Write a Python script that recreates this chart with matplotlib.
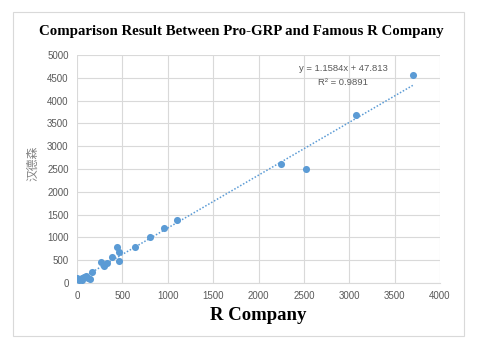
import matplotlib
matplotlib.use("Agg")
import matplotlib.pyplot as plt
from matplotlib.patches import Rectangle
import numpy as np

r_company = [5, 20, 35, 50, 60, 80, 100, 120, 140, 160, 265, 300, 330, 385, 440, 460, 465, 640, 800, 960, 1100, 2250, 2520, 3070, 3700]
handesen = [100, 70, 90, 110, 60, 130, 150, 120, 90, 240, 460, 380, 430, 570, 780, 690, 490, 800, 1000, 1200, 1380, 2600, 2490, 3690, 4560]
slope = 1.1584
intercept = 47.813
r2 = 0.9891
xticks = [0, 500, 1000, 1500, 2000, 2500, 3000, 3500, 4000]
yticks = [0, 500, 1000, 1500, 2000, 2500, 3000, 3500, 4000, 4500, 5000]

blue = "#5b9bd5"
gray = "#595959"
grid = "#d9d9d9"

fig = plt.figure(figsize=(4.79, 3.5), dpi=100)
fig.patches.append(Rectangle((13/479, 1 - 336/350), (464-13)/479, (336-12)/350,
                             transform=fig.transFigure, fill=False, edgecolor=grid, linewidth=0.8))

ax = fig.add_axes([77/479, 1 - 283/350, (440-77)/479, (283-55)/350])
ax.set_xlim(0, 4000)
ax.set_ylim(0, 5000)
ax.set_xticks(xticks)
ax.set_yticks(yticks)
ax.grid(True, color=grid, linewidth=0.8)
ax.set_axisbelow(True)
for s in ["top", "right", "left"]:
    ax.spines[s].set_visible(False)
ax.spines["bottom"].set_color(grid)
ax.tick_params(length=0, labelsize=7, labelcolor=gray, pad=6)
for lab in ax.get_xticklabels() + ax.get_yticklabels():
    lab.set_family("Liberation Sans")

xs = np.array([min(r_company), max(r_company)])
ax.plot(xs, slope * xs + intercept, linestyle=(0, (1, 1.2)), color=blue, linewidth=1.1, zorder=2)
ax.scatter(r_company, handesen, s=26, color=blue, zorder=3, linewidths=0)

ax.text(2930, 4700, f"y = {slope}x + {intercept}", fontsize=6.8, color=gray,
        ha="center", va="center", family="Liberation Sans")
ax.text(2930, 4390, f"R² = {r2}", fontsize=6.8, color=gray,
        ha="center", va="center", family="Liberation Sans")

fig.text(241/479, 1 - 32/350, "Comparison Result Between Pro-GRP and Famous R Company",
         fontsize=10.7, fontweight="bold", family="Liberation Serif", ha="center", va="center")
fig.text(258/479, 1 - 316/350, "R Company", fontsize=13.5, fontweight="bold",
         family="Liberation Serif", ha="center", va="center")
fig.text(33/479, 1 - 163/350, "汉德森", fontsize=8.5, color="#808080", rotation=90,
         family=["Noto Sans CJK SC", "DejaVu Sans"], ha="center", va="center")

fig.savefig("out.png", dpi=100)
